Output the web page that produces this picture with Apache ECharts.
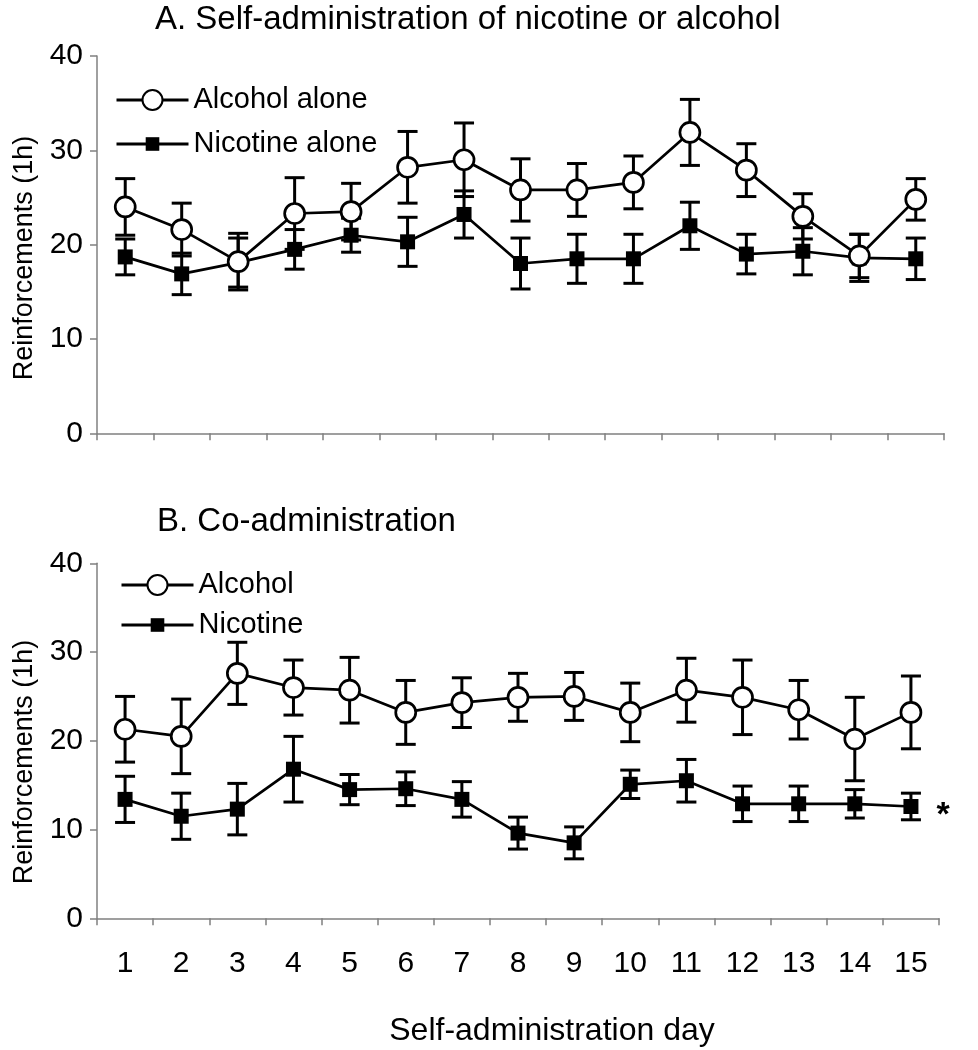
<!DOCTYPE html>
<html>
<head>
<meta charset="utf-8">
<script src="https://cdn.jsdelivr.net/npm/echarts@6/dist/echarts.min.js"></script>
<style>
html,body{margin:0;padding:0;background:#fff;}
#chart{width:978px;height:1050px;}
</style>
</head>
<body>
<div id="chart"></div>
<script>
// ---- data ----
var days = ['1','2','3','4','5','6','7','8','9','10','11','12','13','14','15'];

var alcoholAloneMean = [24.0, 21.6, 18.2, 23.3, 23.5, 28.2, 29.0, 25.8, 25.8, 26.6, 31.9, 27.9, 23.0, 18.8, 24.8];
var alcoholAloneSem  = [3.0, 2.8, 3.0, 3.8, 3.0, 3.8, 3.9, 3.3, 2.8, 2.8, 3.5, 2.8, 2.4, 2.3, 2.2];
var nicotineAloneMean = [18.7, 16.9, 18.1, 19.5, 21.0, 20.3, 23.2, 18.0, 18.5, 18.5, 22.0, 19.0, 19.3, 18.6, 18.5];
var nicotineAloneSem  = [1.9, 2.2, 2.6, 2.1, 1.8, 2.6, 2.5, 2.7, 2.6, 2.6, 2.5, 2.1, 2.5, 2.5, 2.2];

var alcoholCoMean = [21.3, 20.5, 27.6, 26.0, 25.7, 23.2, 24.3, 24.9, 25.0, 23.2, 25.7, 24.9, 23.5, 20.2, 23.2];
var alcoholCoSem  = [3.7, 4.2, 3.5, 3.1, 3.7, 3.6, 2.8, 2.7, 2.7, 3.3, 3.6, 4.2, 3.3, 4.7, 4.1];
var nicotineCoMean = [13.4, 11.5, 12.3, 16.8, 14.5, 14.6, 13.4, 9.6, 8.5, 15.1, 15.5, 12.9, 12.9, 12.9, 12.6];
var nicotineCoSem  = [2.6, 2.6, 2.9, 3.7, 1.7, 1.9, 2.0, 1.8, 1.8, 1.6, 2.4, 2.0, 2.0, 1.6, 1.5];

var yTicks = [0, 10, 20, 30, 40];
var significantMark = '*';

// ---- chart ----
var FONT = '"Liberation Sans", Arial, sans-serif';

function errData(mean, sem) {
  return mean.map(function (m, i) { return [i, m - sem[i], m + sem[i]]; });
}
function renderErr(params, api) {
  var x = api.value(0);
  var lo = api.coord([x, api.value(1)]);
  var hi = api.coord([x, api.value(2)]);
  var hw = 10;
  var st = { stroke: '#000', lineWidth: 3 };
  return {
    type: 'group',
    children: [
      { type: 'line', shape: { x1: lo[0], y1: lo[1], x2: hi[0], y2: hi[1] }, style: st },
      { type: 'line', shape: { x1: lo[0] - hw, y1: lo[1], x2: lo[0] + hw, y2: lo[1] }, style: st },
      { type: 'line', shape: { x1: hi[0] - hw, y1: hi[1], x2: hi[0] + hw, y2: hi[1] }, style: st }
    ]
  };
}
function errSeries(name, idx, mean, sem) {
  return {
    name: name, type: 'custom', xAxisIndex: idx, yAxisIndex: idx,
    data: errData(mean, sem), renderItem: renderErr,
    encode: { x: 0, y: [1, 2] }, z: 1, silent: true
  };
}
function lineSeries(name, idx, mean, open) {
  return {
    name: name, type: 'line', xAxisIndex: idx, yAxisIndex: idx,
    data: mean.slice(), z: 3,
    symbol: open ? 'circle' : 'rect',
    symbolSize: open ? 20 : 15,
    lineStyle: { color: '#000', width: 2.7 },
    itemStyle: open ? { color: '#fff', borderColor: '#000', borderWidth: 2.7 }
                    : { color: '#000', borderColor: '#000', borderWidth: 0 }
  };
}

var yAxisBase = {
  type: 'value', min: yTicks[0], max: yTicks[yTicks.length - 1], interval: 10,
  axisLine: { show: true, lineStyle: { color: '#808080', width: 1.5 } },
  axisTick: { show: true, length: 7, lineStyle: { color: '#808080', width: 1.5 } },
  splitLine: { show: false },
  axisLabel: { fontSize: 30, color: '#000', fontFamily: FONT, margin: 14 }
};
var xAxisBase = {
  type: 'category', data: days, boundaryGap: true,
  axisLine: { show: true, lineStyle: { color: '#808080', width: 1.5 } },
  axisTick: { show: true, length: 7, lineStyle: { color: '#808080', width: 1.5 } },
  splitLine: { show: false }
};

var nicCo = lineSeries('Nicotine', 1, nicotineCoMean, false);
nicCo.data = nicotineCoMean.map(function (v, i) {
  if (i === nicotineCoMean.length - 1) {
    return { value: v, label: { show: true, formatter: significantMark, position: 'right',
      distance: 18, offset: [0, 9], fontSize: 34, fontWeight: 'bold', color: '#000', fontFamily: FONT } };
  }
  return v;
});

function legend(name, left, top, ih) {
  return {
    data: [name], left: left, top: top, orient: 'vertical', padding: 0,
    itemWidth: 72, itemHeight: ih, selectedMode: false,
    lineStyle: { width: 3, color: '#000' },
    textStyle: { fontSize: 29, color: '#000', fontFamily: FONT, lineHeight: 30 }
  };
}

var option = {
  animation: false,
  backgroundColor: '#fff',
  grid: [
    { left: 97, top: 56, width: 847, height: 377.3 },
    { left: 97, top: 563.3, width: 842, height: 355 }
  ],
  xAxis: [
    Object.assign({}, xAxisBase, { gridIndex: 0, axisLabel: { show: false } }),
    Object.assign({}, xAxisBase, { gridIndex: 1,
      axisLabel: { show: true, fontSize: 30, color: '#000', fontFamily: FONT, margin: 30 } })
  ],
  yAxis: [
    Object.assign({}, yAxisBase, { gridIndex: 0 }),
    Object.assign({}, yAxisBase, { gridIndex: 1 })
  ],
  legend: [
    legend('Alcohol alone', 115, 85, 25),
    legend('Nicotine alone', 115, 129, 17),
    legend('Alcohol', 120, 570, 25),
    legend('Nicotine', 120, 610, 17)
  ],
  graphic: [
    { type: 'text', x: 155, y: 20, style: { text: 'A. Self-administration of nicotine or alcohol',
      font: '33px ' + FONT, fill: '#000', textVerticalAlign: 'middle' } },
    { type: 'text', x: 157, y: 522, style: { text: 'B. Co-administration',
      font: '33px ' + FONT, fill: '#000', textVerticalAlign: 'middle' } },
    { type: 'text', x: 552, y: 1031, style: { text: 'Self-administration day',
      font: '32px ' + FONT, fill: '#000', textAlign: 'center', textVerticalAlign: 'middle' } },
    { type: 'text', x: 25, y: 258, rotation: Math.PI / 2, style: { text: 'Reinforcements (1h)',
      font: '27px ' + FONT, fill: '#000', textAlign: 'center', textVerticalAlign: 'middle' } },
    { type: 'text', x: 25, y: 762, rotation: Math.PI / 2, style: { text: 'Reinforcements (1h)',
      font: '27px ' + FONT, fill: '#000', textAlign: 'center', textVerticalAlign: 'middle' } }
  ],
  series: [
    errSeries('errAA', 0, alcoholAloneMean, alcoholAloneSem),
    errSeries('errNA', 0, nicotineAloneMean, nicotineAloneSem),
    lineSeries('Nicotine alone', 0, nicotineAloneMean, false),
    lineSeries('Alcohol alone', 0, alcoholAloneMean, true),
    errSeries('errAC', 1, alcoholCoMean, alcoholCoSem),
    errSeries('errNC', 1, nicotineCoMean, nicotineCoSem),
    nicCo,
    lineSeries('Alcohol', 1, alcoholCoMean, true)
  ]
};

var chart = echarts.init(document.getElementById('chart'), null, { renderer: 'canvas' });
chart.setOption(option);
</script>
</body>
</html>
